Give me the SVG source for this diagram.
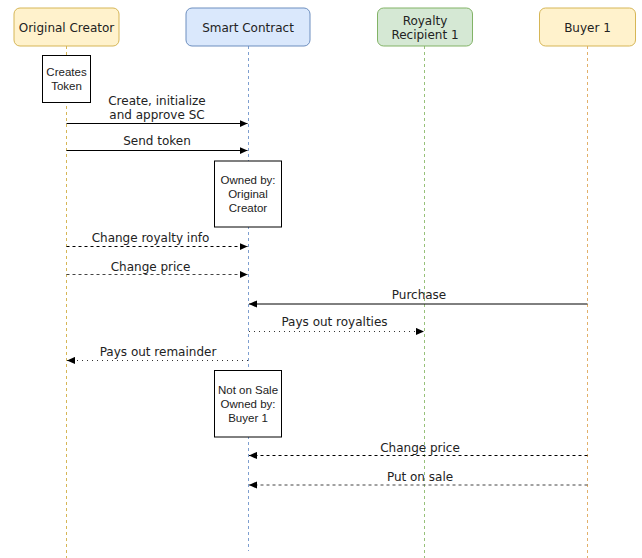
<svg xmlns="http://www.w3.org/2000/svg" width="642" height="558" viewBox="0 0 642 558">
<defs>
<marker id="ah" viewBox="0 0 10 10" refX="10" refY="5" markerWidth="8" markerHeight="8" markerUnits="userSpaceOnUse" orient="auto">
<path d="M0,0.5 L10,5 L0,9.5 Z" fill="#000"/>
</marker>
<style>
.hdr{font-family:"DejaVu Sans",Verdana,sans-serif;font-size:12px;fill:#222;text-anchor:middle}
.lbl{font-family:"DejaVu Sans",Verdana,sans-serif;font-size:12px;fill:#222;text-anchor:middle}
.note{font-family:"Liberation Sans",Arial,sans-serif;font-size:11.5px;fill:#222;text-anchor:middle}
.nbox{fill:#fff;stroke:#000;stroke-width:1}
.life{fill:none;stroke-width:1;stroke-dasharray:3,3}
.msg{fill:none;stroke:#000;stroke-width:1;marker-end:url(#ah)}
.dash{stroke-dasharray:3,3}
.dash2{stroke:#444;stroke-dasharray:3,3}
.dot{stroke:#333;stroke-dasharray:1,4}
</style>
</defs>
<rect width="642" height="558" fill="#fff"/>

<g id="lifelines">
<line class="life" x1="66.5" y1="46" x2="66.5" y2="558" stroke="#d6b656"/>
<line class="life" x1="248.5" y1="46" x2="248.5" y2="551" stroke="#7e9fd0"/>
<line class="life" x1="424.5" y1="46" x2="424.5" y2="558" stroke="#97c17a"/>
<line class="life" x1="587.5" y1="46" x2="587.5" y2="558" stroke="#e2b06a"/>
</g>

<g id="original-creator">
<rect x="14" y="8" width="105" height="38" rx="6" fill="#fff2cc" stroke="#d6b656"/>
<text class="hdr" x="66.5" y="31.5">Original Creator</text>
</g>
<g id="smart-contract">
<rect x="186" y="8" width="124" height="38" rx="6" fill="#dae8fc" stroke="#6c8ebf"/>
<text class="hdr" x="248" y="31.5">Smart Contract</text>
</g>
<g id="royalty-recipient">
<rect x="377.5" y="8" width="95" height="38" rx="6" fill="#d5e8d4" stroke="#82b366"/>
<text class="hdr" x="425" y="25">Royalty</text>
<text class="hdr" x="425" y="38.5">Recipient 1</text>
</g>
<g id="buyer-1">
<rect x="539.5" y="8" width="96" height="38" rx="6" fill="#fff2cc" stroke="#d6b656"/>
<text class="hdr" x="587.5" y="31.5">Buyer 1</text>
</g>

<g id="note-creates-token">
<rect class="nbox" x="42.5" y="55.5" width="48" height="47"/>
<text class="note" x="66.5" y="75.5">Creates</text>
<text class="note" x="66.5" y="90">Token</text>
</g>
<g id="note-owned-creator">
<rect class="nbox" x="214.5" y="161" width="67" height="66"/>
<text class="note" x="248" y="184">Owned by:</text>
<text class="note" x="248" y="198">Original</text>
<text class="note" x="248" y="212">Creator</text>
</g>
<g id="note-not-on-sale">
<rect class="nbox" x="214.5" y="370.5" width="67" height="66.5"/>
<text class="note" x="248" y="394">Not on Sale</text>
<text class="note" x="248" y="408">Owned by:</text>
<text class="note" x="248" y="422">Buyer 1</text>
</g>

<g id="connectors">
<line class="msg" x1="66.5" y1="123.5" x2="247.5" y2="123.5"/>
<line class="msg" x1="66.5" y1="150.5" x2="247.5" y2="150.5"/>
<line class="msg dash" x1="66.5" y1="246.5" x2="247.5" y2="246.5"/>
<line class="msg dash2" x1="66.5" y1="274.5" x2="247.5" y2="274.5"/>
<line class="msg" stroke="#444" x1="587.5" y1="304" x2="249" y2="304"/>
<line class="msg dot" x1="249" y1="331.5" x2="424" y2="331.5"/>
<line class="msg dot" x1="248" y1="360.5" x2="67" y2="360.5"/>
<line class="msg dash" x1="587.5" y1="455.5" x2="249" y2="455.5"/>
<line class="msg dash2" x1="587.5" y1="485" x2="249" y2="485"/>
</g>

<g id="labels">
<text class="lbl" x="157" y="105">Create, initialize</text>
<text class="lbl" x="157" y="119">and approve SC</text>
<text class="lbl" x="157" y="145">Send token</text>
<text class="lbl" x="150.5" y="241.5">Change royalty info</text>
<text class="lbl" x="150.5" y="271">Change price</text>
<text class="lbl" x="419" y="298.5">Purchase</text>
<text class="lbl" x="334.5" y="326">Pays out royalties</text>
<text class="lbl" x="158" y="356">Pays out remainder</text>
<text class="lbl" x="420" y="451.5">Change price</text>
<text class="lbl" x="420" y="481">Put on sale</text>
</g>
</svg>
